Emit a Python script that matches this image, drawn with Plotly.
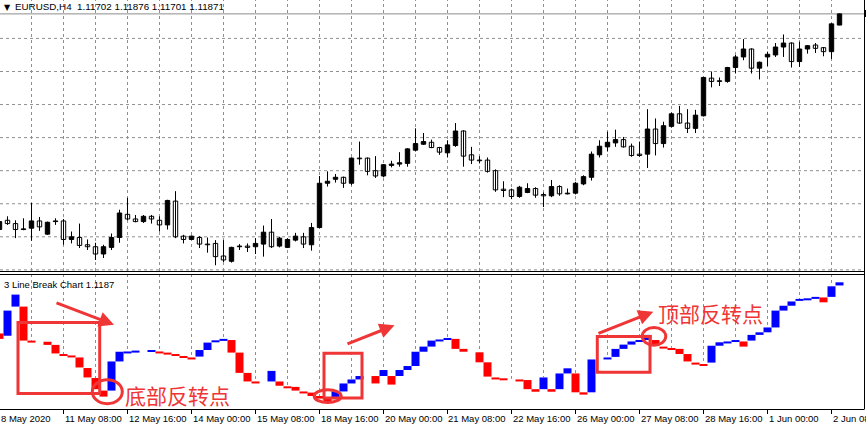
import plotly.graph_objects as go

# ---------------- data ----------------
tick_labels = ["8 May 2020", "11 May 08:00", "12 May 16:00", "14 May 00:00", "15 May 08:00",
               "18 May 16:00", "20 May 00:00", "21 May 08:00", "22 May 16:00", "26 May 00:00",
               "27 May 08:00", "28 May 16:00", "1 Jun 00:00", "2 Jun 08:00"]
tick_bars = [0, 8, 16, 24, 32, 40, 48, 56, 64, 72, 80, 88, 96, 104]

opens = [1.0861, 1.0875, 1.0870, 1.0861, 1.0863, 1.0874, 1.0854, 1.0873, 1.0874, 1.0846,
         1.0849, 1.0838, 1.0835, 1.0824, 1.0834, 1.0849, 1.0884, 1.0877, 1.0873, 1.0881,
         1.0875, 1.0868, 1.0904, 1.0851, 1.0846, 1.0849, 1.0839, 1.0840, 1.0821, 1.0813,
         1.0835, 1.0836, 1.0835, 1.0839, 1.0857, 1.0836, 1.0834, 1.0845, 1.0850, 1.0838,
         1.0864, 1.0931, 1.0937, 1.0940, 1.0931, 1.0969, 1.0969, 1.0950, 1.0942, 1.0958,
         1.0960, 1.0961, 1.0981, 1.0990, 1.0993, 1.0985, 1.0977, 1.0988, 1.1010, 1.0974,
         1.0966, 1.0966, 1.0950, 1.0922, 1.0921, 1.0911, 1.0917, 1.0923, 1.0914, 1.0912,
         1.0926, 1.0915, 1.0916, 1.0930, 1.0940, 1.0974, 1.0986, 1.0992, 1.0997, 1.0987,
         1.0975, 1.0975, 1.1013, 1.0991, 1.1017, 1.1036, 1.1022, 1.1014, 1.1033, 1.1090,
         1.1086, 1.1085, 1.1106, 1.1122, 1.1134, 1.1105, 1.1122, 1.1125, 1.1137, 1.1143,
         1.1115, 1.1134, 1.1140, 1.1136, 1.1130, 1.11702]
highs = [1.0877, 1.0881, 1.0875, 1.0878, 1.0901, 1.0880, 1.0873, 1.0878, 1.0877, 1.0858,
         1.0870, 1.0846, 1.0841, 1.0838, 1.0855, 1.0891, 1.0909, 1.0883, 1.0883, 1.0883,
         1.0881, 1.0906, 1.0919, 1.0853, 1.0852, 1.0851, 1.0849, 1.0845, 1.0845, 1.0835,
         1.0839, 1.0840, 1.0848, 1.0867, 1.0877, 1.0850, 1.0848, 1.0856, 1.0856, 1.0871,
         1.0942, 1.0949, 1.0945, 1.0941, 1.0970, 1.0994, 1.0970, 1.0972, 1.0960, 1.0965,
         1.0978, 1.0984, 1.1014, 1.1007, 1.0997, 1.0986, 1.0996, 1.1022, 1.1011, 1.0986,
         1.0972, 1.0970, 1.0952, 1.0934, 1.0923, 1.0927, 1.0931, 1.0925, 1.0917, 1.0936,
         1.0928, 1.0923, 1.0933, 1.0943, 1.0979, 1.0996, 1.1009, 1.1012, 1.1001, 1.0991,
         1.0994, 1.1043, 1.1029, 1.1024, 1.1038, 1.1048, 1.1043, 1.1042, 1.1092, 1.1100,
         1.1091, 1.1107, 1.1125, 1.1149, 1.1135, 1.1115, 1.1130, 1.1143, 1.1156, 1.1144,
         1.1145, 1.1140, 1.1143, 1.1137, 1.1173, 1.11876]
lows = [1.0859, 1.0868, 1.0848, 1.0860, 1.0844, 1.0859, 1.0853, 1.0868, 1.0838, 1.0840,
        1.0833, 1.0830, 1.0815, 1.0818, 1.0830, 1.0841, 1.0875, 1.0872, 1.0871, 1.0870,
        1.0858, 1.0861, 1.0848, 1.0840, 1.0845, 1.0833, 1.0826, 1.0807, 1.0812, 1.0811,
        1.0830, 1.0827, 1.0824, 1.0820, 1.0833, 1.0834, 1.0833, 1.0843, 1.0833, 1.0829,
        1.0863, 1.0926, 1.0932, 1.0924, 1.0928, 1.0959, 1.0943, 1.0939, 1.0940, 1.0955,
        1.0956, 1.0956, 1.0979, 1.0989, 1.0984, 1.0974, 1.0970, 1.0986, 1.0956, 1.0960,
        1.0961, 1.0947, 1.0918, 1.0910, 1.0907, 1.0909, 1.0916, 1.0909, 1.0895, 1.0910,
        1.0912, 1.0914, 1.0914, 1.0928, 1.0935, 1.0970, 1.0979, 1.0986, 1.0985, 1.0971,
        1.0971, 1.0954, 1.0973, 1.0985, 1.1015, 1.1021, 1.1007, 1.1007, 1.1032, 1.1076,
        1.1078, 1.1083, 1.1097, 1.1117, 1.1097, 1.1088, 1.1108, 1.1122, 1.1122, 1.1106,
        1.1107, 1.1127, 1.1128, 1.1123, 1.1119, 1.11701]
closes = [1.0873, 1.0870, 1.0861, 1.0862, 1.0874, 1.0865, 1.0872, 1.0874, 1.0846, 1.0850,
          1.0837, 1.0835, 1.0824, 1.0835, 1.0849, 1.0886, 1.0877, 1.0873, 1.0881, 1.0877,
          1.0868, 1.0905, 1.0850, 1.0846, 1.0851, 1.0839, 1.0838, 1.0820, 1.0815, 1.0834,
          1.0836, 1.0834, 1.0840, 1.0857, 1.0835, 1.0848, 1.0846, 1.0851, 1.0839, 1.0864,
          1.0931, 1.0934, 1.0940, 1.0931, 1.0969, 1.0968, 1.0949, 1.0942, 1.0959, 1.0960,
          1.0962, 1.0983, 1.0991, 1.0994, 1.0985, 1.0978, 1.0989, 1.1010, 1.0972, 1.0966,
          1.0965, 1.0949, 1.0921, 1.0920, 1.0911, 1.0925, 1.0923, 1.0913, 1.0912, 1.0926,
          1.0915, 1.0916, 1.0931, 1.0941, 1.0975, 1.0987, 1.0993, 1.0997, 1.0986, 1.0973,
          1.0973, 1.1013, 1.0991, 1.1018, 1.1036, 1.1022, 1.1014, 1.1034, 1.1091, 1.1085,
          1.1085, 1.1106, 1.1122, 1.1134, 1.1105, 1.1114, 1.1126, 1.1137, 1.1143, 1.1115,
          1.1134, 1.1139, 1.1135, 1.1130, 1.1172, 1.11871]

# 3 Line Break: top / bottom of each column, direction (1 up, -1 down, 0 no line)
lb_top = [1.1008, 1.1088, 1.1144, 1.1102, 1.0983, 1.0982, 1.0979, 1.0968, 1.0936, 1.0931,
          1.0924, 1.0887, 1.0852, 1.0808, 1.0910, 1.0944, 1.0945, 1.0948, 1.0948, 1.0950,
          1.0945, 1.0941, 1.0936, 1.0929, 1.0924, 1.0950, 1.0976, 1.0984, 1.0989, 1.0985,
          1.0941, 1.0870, 1.0840, 1.0840, 1.0877, 1.0840, 1.0823, 1.0821, 1.0805, 1.0801,
          1.0789, 1.0780, 1.0805, 1.0833, 1.0847, 1.0859, 1.0859, 1.0859, 1.0880, 1.0859,
          1.0880, 1.0894, 1.0944, 1.0962, 1.0983, 1.0987, 1.0992, 1.0989, 1.0954, 1.0944,
          1.0942, 1.0907, 1.0854, 1.0851, 1.0849, 1.0847, 1.0845, 1.0813, 1.0854, 1.0813,
          1.0868, 1.0886, 1.0868, 1.0802, 1.0917, 1.0922, 1.0924, 1.0954, 1.0969, 1.0980,
          1.0985, 1.1003, 1.0985, 1.0962, 1.0957, 1.0954, 1.0936, 1.0906, 1.0901, 1.0965,
          1.0977, 1.0980, 1.0985, 1.0980, 1.1003, 1.1012, 1.1029, 1.1088, 1.1105, 1.1120,
          1.1129, 1.1131, 1.1136, 1.1134, 1.1173, 1.1187]
lb_bottom = [1.0989, 1.1000, 1.1102, 1.0983, 1.0983, 1.0982, 1.0968, 1.0938, 1.0936, 1.0931,
             1.0889, 1.0854, 1.0813, 1.0787, 1.0808, 1.0910, 1.0945, 1.0948, 1.0948, 1.0950,
             1.0945, 1.0941, 1.0936, 1.0929, 1.0924, 1.0927, 1.0950, 1.0984, 1.0989, 1.0941,
             1.0870, 1.0840, 1.0840, 1.0840, 1.0840, 1.0825, 1.0823, 1.0808, 1.0805, 1.0789,
             1.0780, 1.0770, 1.0780, 1.0805, 1.0833, 1.0847, 1.0859, 1.0833, 1.0859, 1.0829,
             1.0859, 1.0880, 1.0894, 1.0944, 1.0962, 1.0987, 1.0992, 1.0954, 1.0944, 1.0944,
             1.0907, 1.0857, 1.0854, 1.0851, 1.0849, 1.0847, 1.0813, 1.0804, 1.0813, 1.0804,
             1.0813, 1.0868, 1.0802, 1.0794, 1.0802, 1.0922, 1.0924, 1.0926, 1.0954, 1.0969,
             1.0985, 1.0985, 1.0966, 1.0962, 1.0957, 1.0936, 1.0910, 1.0906, 1.0901, 1.0906,
             1.0965, 1.0980, 1.0985, 1.0962, 1.0983, 1.1003, 1.1012, 1.1029, 1.1088, 1.1105,
             1.1129, 1.1131, 1.1136, 1.1117, 1.1136, 1.1176]
lb_dir = [-1, 1, 1, -1, -1, 0, -1, -1, -1, -1,
          -1, -1, -1, -1, 1, 1, 1, 1, 0, 1,
          -1, -1, -1, -1, -1, 1, 1, 1, 1, -1,
          -1, -1, -1, 0, 1, -1, -1, -1, -1, -1,
          -1, -1, 1, 1, 1, 1, 0, -1, 1, -1,
          1, 1, 1, 1, 1, 1, 1, -1, -1, 0,
          -1, -1, -1, -1, 0, -1, -1, -1, 1, -1,
          1, 1, -1, -1, 1, 0, 1, 1, 1, 1,
          1, 1, -1, -1, -1, -1, -1, -1, -1, 1,
          1, 1, 1, -1, 1, 1, 1, 1, 1, 1,
          1, 1, 1, -1, 1, 1]

price_grid = [1.080, 1.085, 1.090, 1.095, 1.100, 1.105, 1.110, 1.115]
bid_price = 1.11871
header_text = "EURUSD,H4\u00a0\u00a01.11702\u00a01.11876\u00a01.11701\u00a01.11871"
lb_label = "3 Line Break Chart 1.1187"

# ---------------- layout helpers ----------------
W, H = 864, 428


def PX(p):
    return p / W


def PY(p):
    return 1 - p / H


def bar_px(i):
    return -0.5 + 8 * i


X_RANGE = [0.0625, 108.0625]
Y1_RANGE = [1.07983, 1.12081]
Y2_RANGE = [1.07436, 1.12126]
GRID = "#8f8f8f"
RED = "#ef3535"
FONT = "Liberation Sans, Arial, sans-serif"

fig = go.Figure()

# ---- candles (upper pane) ----
bar_idx = list(range(len(opens)))
wx, wy = [], []
for i in bar_idx:
    wx += [i, i, None]
    wy += [lows[i], highs[i], None]
fig.add_trace(go.Scatter(x=wx, y=wy, mode="lines", line=dict(color="black", width=1),
                         xaxis="x", yaxis="y", hoverinfo="skip"))
body_base = [min(o, c) for o, c in zip(opens, closes)]
body_h = [max(abs(c - o), 0.00008) for o, c in zip(opens, closes)]
body_col = ["black" if c >= o else "white" for o, c in zip(opens, closes)]
fig.add_trace(go.Bar(x=bar_idx, y=body_h, base=body_base, width=0.55,
                     marker=dict(color=body_col, line=dict(color="black", width=1)),
                     xaxis="x", yaxis="y", hoverinfo="skip"))

# ---- 3 line break (lower pane) ----
lb_idx = list(range(len(lb_top)))
fig.add_trace(go.Bar(x=lb_idx, y=[t - Y2_RANGE[0] for t in lb_top], base=Y2_RANGE[0], width=1.0,
                     marker=dict(color="white", line=dict(width=0)),
                     xaxis="x2", yaxis="y2", hoverinfo="skip"))
LINE_H = 0.0007
bx, bb, bh, bc = [], [], [], []
for j in lb_idx:
    d = lb_dir[j]
    if d == 0:
        continue
    t, b = lb_top[j], lb_bottom[j]
    if t - b < 1e-6:
        b = t - LINE_H
    bx.append(j)
    bb.append(b)
    bh.append(t - b)
    bc.append("#0000ff" if d > 0 else "#ff0000")
fig.add_trace(go.Bar(x=bx, y=bh, base=bb, width=1.0,
                     marker=dict(color=bc, line=dict(width=0)),
                     xaxis="x2", yaxis="y2", hoverinfo="skip"))

# ---------------- shapes ----------------
shapes = []
dash = "3px,3px"
for k in range(4, 105, 4):
    shapes.append(dict(type="line", xref="x", yref="paper", x0=k, x1=k, y0=PY(271), y1=1,
                       line=dict(color=GRID, width=1, dash=dash), layer="below"))
    shapes.append(dict(type="line", xref="x2", yref="paper", x0=k, x1=k, y0=PY(409), y1=PY(275),
                       line=dict(color=GRID, width=1, dash=dash), layer="below"))
for p in price_grid:
    shapes.append(dict(type="line", xref="paper", yref="y", x0=0, x1=1, y0=p, y1=p,
                       line=dict(color=GRID, width=1, dash=dash), layer="below"))
# bid line
shapes.append(dict(type="line", xref="paper", yref="y", x0=0, x1=1, y0=bid_price, y1=bid_price,
                   line=dict(color="#8c8c8c", width=1), layer="below"))
# pane frames
for yy in (271.5, 274.5, 409.5):
    shapes.append(dict(type="line", xref="paper", yref="paper", x0=0, x1=1, y0=PY(yy), y1=PY(yy),
                       line=dict(color="black", width=1.2)))
shapes.append(dict(type="line", xref="paper", yref="paper", x0=PX(864.5), x1=PX(864.5),
                   y0=PY(0), y1=PY(409.5), line=dict(color="black", width=1)))
shapes.append(dict(type="rect", xref="paper", yref="paper", x0=PX(864), x1=PX(867),
                   y0=PY(17), y1=PY(10), fillcolor="black", line=dict(width=0)))

# hand-drawn red marks
for (x0, y0, x1, y1) in [(18, 322.5, 99.7, 393.5), (324, 353.3, 362, 398), (597.3, 336.5, 650, 372.3)]:
    shapes.append(dict(type="rect", xref="paper", yref="paper", x0=PX(x0), x1=PX(x1),
                       y0=PY(y1), y1=PY(y0), line=dict(color=RED, width=3)))
for (x0, y0, x1, y1) in [(92.3, 379.7, 122.3, 403.7), (314.2, 389.8, 341.2, 402.5),
                         (642.2, 327.5, 665.8, 345.2)]:
    shapes.append(dict(type="circle", xref="paper", yref="paper", x0=PX(x0), x1=PX(x1),
                       y0=PY(y1), y1=PY(y0), line=dict(color=RED, width=3)))

# ---------------- annotations ----------------
ann = []
ann.append(dict(text="\u25bc", xref="paper", yref="paper", x=PX(1.5), y=PY(7.5), xanchor="left",
                yanchor="middle", showarrow=False, font=dict(family="DejaVu Sans", size=8, color="black")))
ann.append(dict(text=header_text, xref="paper", yref="paper", x=PX(13), y=PY(7), xanchor="left",
                yanchor="middle", showarrow=False, font=dict(family=FONT, size=9.8, color="black")))
ann.append(dict(text=lb_label, xref="paper", yref="paper", x=PX(1.5), y=PY(284), xanchor="left",
                yanchor="middle", showarrow=False, font=dict(family=FONT, size=9.5, color="black")))
for lbl, b in zip(tick_labels, tick_bars):
    ann.append(dict(text=lbl, xref="paper", yref="paper", x=PX(bar_px(b)), y=PY(418), xanchor="left",
                    yanchor="middle", xshift=-1, showarrow=False,
                    font=dict(family=FONT, size=9.5, color="black")))
ann.append(dict(text="底部反转点", xref="paper", yref="paper", x=PX(123), y=PY(395), xanchor="left",
                yanchor="middle", showarrow=False,
                font=dict(family="Noto Sans CJK SC", size=21, color=RED)))
ann.append(dict(text="顶部反转点", xref="paper", yref="paper", x=PX(656), y=PY(312.5), xanchor="left",
                yanchor="middle", showarrow=False,
                font=dict(family="Noto Sans CJK SC", size=21, color=RED)))
for (tx, ty, sx, sy) in [(114, 324.7, 55, 302.3), (394.5, 325.3, 346, 344.5), (653.3, 311.7, 597, 334)]:
    ann.append(dict(text="", xref="paper", yref="paper", x=PX(tx), y=PY(ty), ax=sx - tx, ay=sy - ty,
                    showarrow=True, arrowhead=2, arrowsize=1, arrowwidth=3, arrowcolor=RED, standoff=0))

fig.update_layout(
    width=866, height=428, margin=dict(l=0, r=2, t=0, b=0),
    paper_bgcolor="white", plot_bgcolor="white", showlegend=False, barmode="overlay",
    shapes=shapes, annotations=ann,
    xaxis=dict(domain=[0, 1], range=X_RANGE, anchor="y", showticklabels=False, showgrid=False,
               zeroline=False, ticks=""),
    yaxis=dict(domain=[PY(271), 1], range=Y1_RANGE, showticklabels=False, showgrid=False,
               zeroline=False, ticks=""),
    xaxis2=dict(domain=[0, 1], range=X_RANGE, anchor="y2", showticklabels=False, showgrid=False,
                zeroline=False, tickmode="array", tickvals=tick_bars, ticks="outside", ticklen=4,
                tickcolor="black", tickwidth=1),
    yaxis2=dict(domain=[PY(409), PY(275)], range=Y2_RANGE, showticklabels=False, showgrid=False,
                zeroline=False, ticks=""),
)

fig.write_html("out.html", config={"displayModeBar": False, "staticPlot": True},
               post_script="document.body.style.margin='0';document.body.style.overflow='hidden';")
